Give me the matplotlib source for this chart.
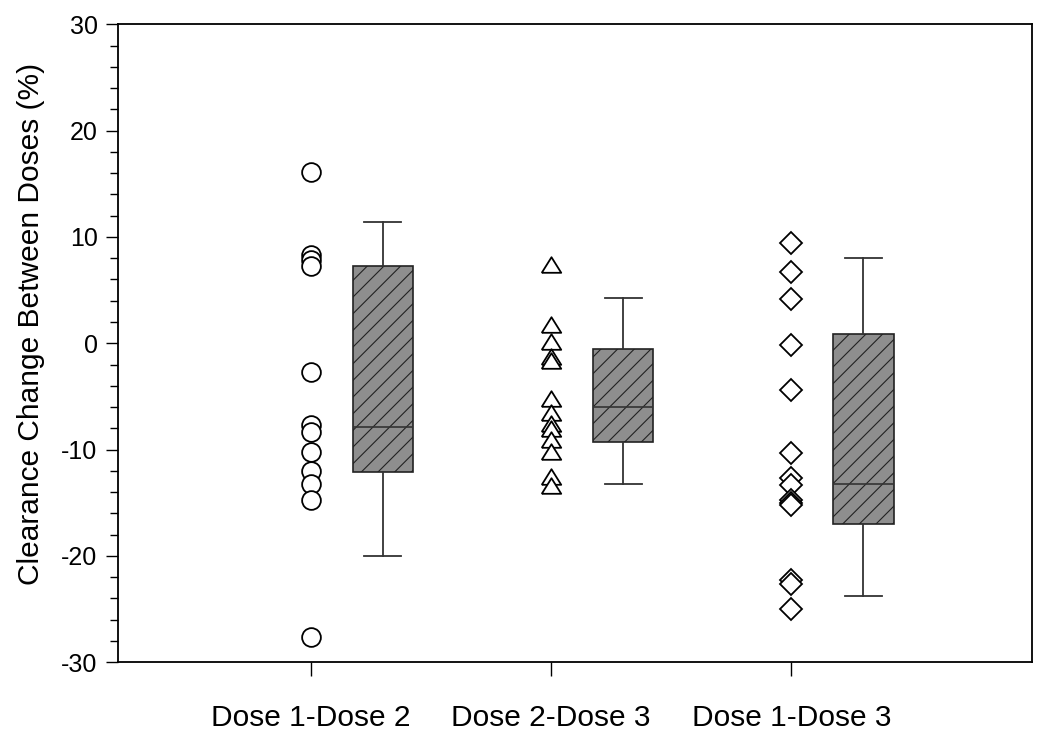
import matplotlib
matplotlib.use('Agg')
import matplotlib.pyplot as plt
from matplotlib.ticker import MultipleLocator

plt.rcParams['font.family'] = ['Liberation Sans', 'DejaVu Sans']
plt.rcParams['axes.unicode_minus'] = False
plt.rcParams['hatch.linewidth'] = 0.8

# Données
groupes = ['Dose 1-Dose 2', 'Dose 2-Dose 3', 'Dose 1-Dose 3']

d12 = [16.1, 8.3, 7.8, 7.3, -2.7, -7.7, -8.3, -10.2, -12.0, -13.2, -14.7, -27.6]
d23 = [7.4, 1.7, 0.1, -1.3, -1.7, -5.2, -6.6, -7.6, -8.1, -9.1, -10.2, -12.6, -13.4]
d13 = [9.4, 6.7, 4.2, -0.2, -4.4, -10.3, -12.7, -13.3, -14.7, -15.0, -15.2,
       -22.3, -22.6, -25.0]

# Statistiques des boîtes (min moustache, Q1, médiane, Q3, max moustache)
moust_bas = [-20.0, -13.2, -23.8]
q1 = [-12.1, -9.3, -17.0]
mediane = [-7.9, -6.0, -13.2]
q3 = [7.3, -0.5, 0.85]
moust_haut = [11.4, 4.3, 8.0]

fig, ax = plt.subplots(figsize=(10.5, 7.34), dpi=100)
fig.subplots_adjust(left=0.1127, right=0.9826, top=0.9669, bottom=0.0977)

# Points individuels
tri = [(-1, -0.75), (1, -0.75), (0, 0.85), (-1, -0.75)]
ax.plot([1] * len(d12), d12, 'o', ms=13.5, mfc='white', mec='black', mew=1.3)
ax.plot([2] * len(d23), d23, marker=tri, ls='none', ms=14, mfc='white', mec='black', mew=1.3)
ax.plot([3] * len(d13), d13, 'D', ms=11.5, mfc='white', mec='black', mew=1.3)

# Boîtes à moustaches
stats = []
for i in range(3):
    stats.append({'whislo': moust_bas[i], 'q1': q1[i], 'med': mediane[i],
                  'q3': q3[i], 'whishi': moust_haut[i], 'fliers': []})

bp = ax.bxp(stats, positions=[1.3, 2.3, 3.3], widths=0.25, patch_artist=True,
            showfliers=False, manage_ticks=False,
            boxprops=dict(facecolor='#8e8e8e', edgecolor='#222222', linewidth=1.2, hatch='//'),
            medianprops=dict(color='#333333', linewidth=1.2),
            whiskerprops=dict(color='#333333', linewidth=1.3),
            capprops=dict(color='#333333', linewidth=1.3),
            capwidths=0.154)

ax.set_xlim(0.2, 4.0)
ax.set_ylim(-30, 30)
ax.set_xticks([1, 2, 3])
ax.set_xticklabels(groupes, fontsize=21.5)
ax.yaxis.set_major_locator(MultipleLocator(10))
ax.yaxis.set_minor_locator(MultipleLocator(2))
ax.tick_params(axis='y', which='major', length=9, width=1, labelsize=18, pad=6)
ax.tick_params(axis='y', which='minor', length=5.5, width=1)
ax.tick_params(axis='x', length=10, width=1, pad=20)
ax.set_ylabel('Clearance Change Between Doses (%)', fontsize=21.5)
ax.yaxis.set_label_coords(-0.08, 0.53)

for sp in ax.spines.values():
    sp.set_linewidth(1.3)

plt.savefig('out.png', dpi=100)
